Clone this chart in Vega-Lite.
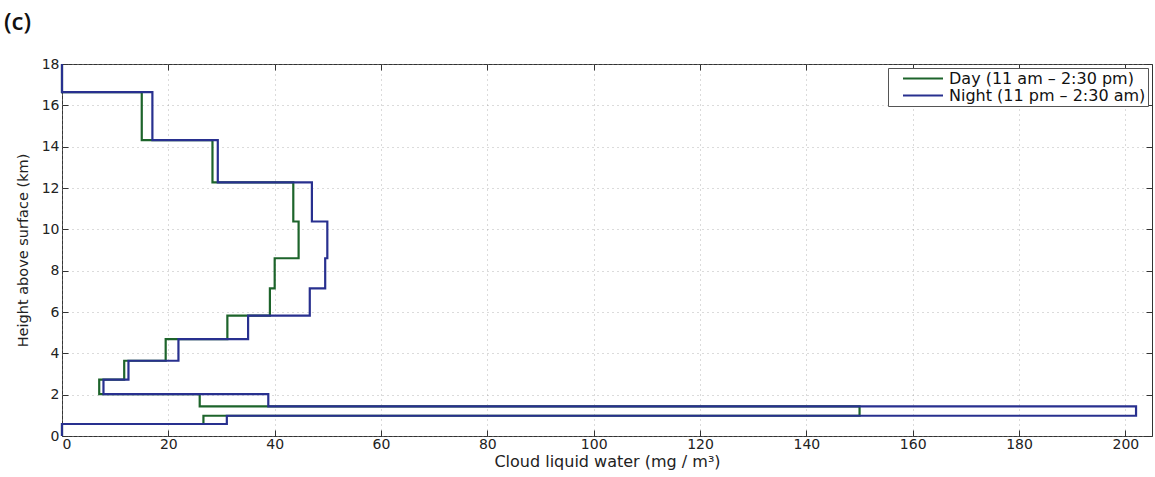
{
  "$schema": "https://vega.github.io/schema/vega-lite/v6.json",
  "width": 1090,
  "height": 372,
  "autosize": "none",
  "padding": {"left": 62, "top": 64, "right": 3, "bottom": 41},
  "title": {"text": "(c)", "anchor": "start", "frame": "group", "dx": -58, "offset": 22, "font": "Open Sans", "fontSize": 24, "fontWeight": 600, "color": "#111"},
  "config": {
    "view": {"stroke": "#333", "strokeWidth": 1},
    "axis": {"labelFont": "DejaVu Sans", "titleFont": "DejaVu Sans", "labelFontSize": 14, "titleFontSize": 14, "labelColor": "#222", "titleColor": "#222", "titleFontWeight": "normal", "domain": false, "tickColor": "#333", "gridColor": "#999", "gridDash": [1, 4], "gridOpacity": 0.7}
  },
  "data": {"values": [
    {"s": "Day (11 am – 2:30 pm)", "i": 1, "w": 0, "h": 0},
    {"s": "Day (11 am – 2:30 pm)", "i": 2, "w": 0, "h": 0.58},
    {"s": "Day (11 am – 2:30 pm)", "i": 3, "w": 26.6, "h": 0.58},
    {"s": "Day (11 am – 2:30 pm)", "i": 4, "w": 26.6, "h": 0.98},
    {"s": "Day (11 am – 2:30 pm)", "i": 5, "w": 150, "h": 0.98},
    {"s": "Day (11 am – 2:30 pm)", "i": 6, "w": 150, "h": 1.43},
    {"s": "Day (11 am – 2:30 pm)", "i": 7, "w": 25.9, "h": 1.43},
    {"s": "Day (11 am – 2:30 pm)", "i": 8, "w": 25.9, "h": 2.03},
    {"s": "Day (11 am – 2:30 pm)", "i": 9, "w": 7.0, "h": 2.03},
    {"s": "Day (11 am – 2:30 pm)", "i": 10, "w": 7.0, "h": 2.73},
    {"s": "Day (11 am – 2:30 pm)", "i": 11, "w": 11.7, "h": 2.73},
    {"s": "Day (11 am – 2:30 pm)", "i": 12, "w": 11.7, "h": 3.64},
    {"s": "Day (11 am – 2:30 pm)", "i": 13, "w": 19.5, "h": 3.64},
    {"s": "Day (11 am – 2:30 pm)", "i": 14, "w": 19.5, "h": 4.69},
    {"s": "Day (11 am – 2:30 pm)", "i": 15, "w": 31.1, "h": 4.69},
    {"s": "Day (11 am – 2:30 pm)", "i": 16, "w": 31.1, "h": 5.82},
    {"s": "Day (11 am – 2:30 pm)", "i": 17, "w": 39.1, "h": 5.82},
    {"s": "Day (11 am – 2:30 pm)", "i": 18, "w": 39.1, "h": 7.14},
    {"s": "Day (11 am – 2:30 pm)", "i": 19, "w": 40.0, "h": 7.14},
    {"s": "Day (11 am – 2:30 pm)", "i": 20, "w": 40.0, "h": 8.6},
    {"s": "Day (11 am – 2:30 pm)", "i": 21, "w": 44.5, "h": 8.6},
    {"s": "Day (11 am – 2:30 pm)", "i": 22, "w": 44.5, "h": 10.38},
    {"s": "Day (11 am – 2:30 pm)", "i": 23, "w": 43.5, "h": 10.38},
    {"s": "Day (11 am – 2:30 pm)", "i": 24, "w": 43.5, "h": 12.27},
    {"s": "Day (11 am – 2:30 pm)", "i": 25, "w": 28.3, "h": 12.27},
    {"s": "Day (11 am – 2:30 pm)", "i": 26, "w": 28.3, "h": 14.32},
    {"s": "Day (11 am – 2:30 pm)", "i": 27, "w": 15.0, "h": 14.32},
    {"s": "Day (11 am – 2:30 pm)", "i": 28, "w": 15.0, "h": 16.64},
    {"s": "Day (11 am – 2:30 pm)", "i": 29, "w": 0, "h": 16.64},
    {"s": "Day (11 am – 2:30 pm)", "i": 30, "w": 0, "h": 18},
    {"s": "Night (11 pm – 2:30 am)", "i": 1, "w": 0, "h": 0},
    {"s": "Night (11 pm – 2:30 am)", "i": 2, "w": 0, "h": 0.58},
    {"s": "Night (11 pm – 2:30 am)", "i": 3, "w": 31.0, "h": 0.58},
    {"s": "Night (11 pm – 2:30 am)", "i": 4, "w": 31.0, "h": 0.98},
    {"s": "Night (11 pm – 2:30 am)", "i": 5, "w": 202, "h": 0.98},
    {"s": "Night (11 pm – 2:30 am)", "i": 6, "w": 202, "h": 1.43},
    {"s": "Night (11 pm – 2:30 am)", "i": 7, "w": 38.8, "h": 1.43},
    {"s": "Night (11 pm – 2:30 am)", "i": 8, "w": 38.8, "h": 2.03},
    {"s": "Night (11 pm – 2:30 am)", "i": 9, "w": 7.8, "h": 2.03},
    {"s": "Night (11 pm – 2:30 am)", "i": 10, "w": 7.8, "h": 2.73},
    {"s": "Night (11 pm – 2:30 am)", "i": 11, "w": 12.5, "h": 2.73},
    {"s": "Night (11 pm – 2:30 am)", "i": 12, "w": 12.5, "h": 3.64},
    {"s": "Night (11 pm – 2:30 am)", "i": 13, "w": 21.9, "h": 3.64},
    {"s": "Night (11 pm – 2:30 am)", "i": 14, "w": 21.9, "h": 4.69},
    {"s": "Night (11 pm – 2:30 am)", "i": 15, "w": 35.0, "h": 4.69},
    {"s": "Night (11 pm – 2:30 am)", "i": 16, "w": 35.0, "h": 5.82},
    {"s": "Night (11 pm – 2:30 am)", "i": 17, "w": 46.6, "h": 5.82},
    {"s": "Night (11 pm – 2:30 am)", "i": 18, "w": 46.6, "h": 7.14},
    {"s": "Night (11 pm – 2:30 am)", "i": 19, "w": 49.5, "h": 7.14},
    {"s": "Night (11 pm – 2:30 am)", "i": 20, "w": 49.5, "h": 8.6},
    {"s": "Night (11 pm – 2:30 am)", "i": 21, "w": 49.9, "h": 8.6},
    {"s": "Night (11 pm – 2:30 am)", "i": 22, "w": 49.9, "h": 10.38},
    {"s": "Night (11 pm – 2:30 am)", "i": 23, "w": 47.0, "h": 10.38},
    {"s": "Night (11 pm – 2:30 am)", "i": 24, "w": 47.0, "h": 12.27},
    {"s": "Night (11 pm – 2:30 am)", "i": 25, "w": 29.3, "h": 12.27},
    {"s": "Night (11 pm – 2:30 am)", "i": 26, "w": 29.3, "h": 14.32},
    {"s": "Night (11 pm – 2:30 am)", "i": 27, "w": 17.0, "h": 14.32},
    {"s": "Night (11 pm – 2:30 am)", "i": 28, "w": 17.0, "h": 16.64},
    {"s": "Night (11 pm – 2:30 am)", "i": 29, "w": 0, "h": 16.64},
    {"s": "Night (11 pm – 2:30 am)", "i": 30, "w": 0, "h": 18}
  ]},
  "layer": [
    {
      "mark": {"type": "line", "strokeWidth": 2.2, "clip": false},
      "encoding": {
        "x": {"field": "w", "type": "quantitative", "scale": {"domain": [0, 205], "nice": false, "zero": false},
              "axis": {"orient": "bottom", "values": [0, 20, 40, 60, 80, 100, 120, 140, 160, 180, 200], "grid": true, "tickSize": -6, "labelPadding": 7, "title": "Cloud liquid water (mg / m³)", "titleFontSize": 16, "titlePadding": 2}},
        "y": {"field": "h", "type": "quantitative", "scale": {"domain": [0, 18], "nice": false, "zero": false},
              "axis": {"orient": "left", "values": [0, 2, 4, 6, 8, 10, 12, 14, 16, 18], "grid": true, "tickSize": -6, "labelPadding": 9, "title": "Height above surface (km)", "titleFontSize": 14.5, "titlePadding": 11}},
        "order": {"field": "i", "type": "quantitative"},
        "color": {"field": "s", "type": "nominal",
                  "scale": {"domain": ["Day (11 am – 2:30 pm)", "Night (11 pm – 2:30 am)"], "range": ["#1d642b", "#28308f"]},
                  "legend": {"title": null, "orient": "top-right", "offset": 4, "symbolType": "stroke", "symbolSize": 1600, "symbolStrokeWidth": 2, "clipHeight": 17, "labelFont": "DejaVu Sans", "labelFontSize": 16, "labelLimit": 400, "labelColor": "#111", "strokeColor": "#555", "fillColor": "white", "padding": 2, "rowPadding": 0, "labelOffset": 5, "symbolOffset": 12}}
      }
    },
    {
      "mark": {"type": "line", "opacity": 0},
      "encoding": {
        "x": {"field": "w", "type": "quantitative", "axis": {"orient": "top", "values": [0, 20, 40, 60, 80, 100, 120, 140, 160, 180, 200], "labels": false, "grid": false, "tickSize": -6, "title": null}},
        "y": {"field": "h", "type": "quantitative", "axis": {"orient": "right", "values": [0, 2, 4, 6, 8, 10, 12, 14, 16, 18], "labels": false, "grid": false, "tickSize": -6, "title": null}},
        "detail": {"field": "s"},
        "order": {"field": "i", "type": "quantitative"}
      }
    }
  ]
}
